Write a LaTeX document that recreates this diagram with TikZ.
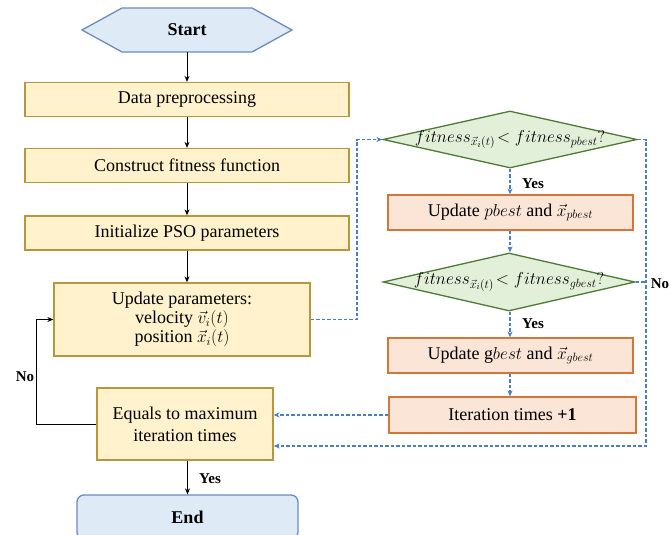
\documentclass[tikz,border=0pt]{standalone}
\usepackage{fontspec}
\setmainfont{Liberation Serif}
\usetikzlibrary{arrows.meta,shapes.geometric,calc}
\definecolor{yfill}{HTML}{FFF2CC}
\definecolor{ydraw}{HTML}{B8963E}
\definecolor{ofill}{HTML}{FBE5D6}
\definecolor{odraw}{HTML}{D4763A}
\definecolor{gfill}{HTML}{E2F0D9}
\definecolor{gdraw}{HTML}{4E7A35}
\definecolor{bfill}{HTML}{DEEBF7}
\definecolor{bdraw}{HTML}{6A8CBE}
\definecolor{dashblue}{HTML}{4A7CC8}
\begin{document}
\begin{tikzpicture}[x=1pt,y=-1pt,
  every node/.style={font=\fontsize{18}{20}\selectfont},
  ybox/.style={draw=ydraw,fill=yfill,line width=1.3pt,inner sep=0pt,align=center},
  obox/.style={draw=odraw,fill=ofill,line width=1.3pt,inner sep=0pt,align=center},
  gdia/.style={diamond,draw=gdraw,fill=gfill,line width=1.3pt,inner sep=0pt},
  sarrow/.style={-{Stealth[length=6pt,width=5pt]},line width=1pt,black},
  darrow/.style={-{Stealth[length=6pt,width=5pt,sep=0pt]},line width=1.2pt,dashblue,dash pattern=on 3.5pt off 2pt},
  dashline/.style={line width=1.2pt,dashblue,dash pattern=on 3.5pt off 2pt},
  lbl/.style={font=\fontsize{15}{17}\selectfont\bfseries}]
\useasboundingbox (0,0) rectangle (670,535);
% Start hexagon
\node[minimum width=210pt,minimum height=44pt,inner sep=0pt] (start) at (187,30) {};
\draw[draw=bdraw,fill=bfill,line width=1.3pt] (82,30) -- (122,8) -- (252,8) -- (292,30) -- (252,52) -- (122,52) -- cycle;
\node[font=\fontsize{18}{20}\selectfont\bfseries] at (start) {Start};
% left column
\node[ybox,minimum width=324pt,minimum height=34pt] (data) at (187,99.5) {Data preprocessing};
\node[ybox,minimum width=324pt,minimum height=34pt] (fit) at (187,165.5) {Construct fitness function};
\node[ybox,minimum width=324pt,minimum height=34pt] (init) at (187,233) {Initialize PSO parameters};
\node[ybox,minimum width=256pt,minimum height=73pt] (upd) at (182,319.5) {Update parameters:\\[-1pt] velocity $\vec{v}_i(t)$\\[-1pt] position $\vec{x}_i(t)$};
\node[ybox,minimum width=176pt,minimum height=72pt] (eq) at (185,424) {Equals to maximum\\[2pt] iteration times};
\node[draw=bdraw,fill=bfill,line width=1.3pt,rounded corners=7pt,minimum width=221pt,minimum height=44pt,inner sep=0pt] (end) at (187.5,517) {};
\node[font=\fontsize{18}{20}\selectfont\bfseries] at (187.5,517) {End};
% right column
\node[gdia,minimum width=254pt,minimum height=57pt] (d1) at (510,139.5) {};
\node at (d1) {$fitness_{\vec{x}_i(t)}\!< fitness_{pbest}?$};
\node[obox,minimum width=245pt,minimum height=35pt] (pb) at (510.5,212.5) {Update $pbest$ and $\vec{x}_{pbest}$};
\node[gdia,minimum width=252pt,minimum height=58pt] (d2) at (509,282) {};
\node at (d2) {$fitness_{\vec{x}_i(t)}\!< fitness_{gbest}?$};
\node[obox,minimum width=245pt,minimum height=35pt] (gb) at (510.5,355.5) {Update g$best$ and $\vec{x}_{gbest}$};
\node[obox,minimum width=247pt,minimum height=36pt] (it) at (512.5,415) {Iteration times \textbf{+1}};
% solid arrows
\draw[sarrow] (start.south) -- (data.north);
\draw[sarrow] (data.south) -- (fit.north);
\draw[sarrow] (fit.south) -- (init.north);
\draw[sarrow] (init.south) -- (init.south |- upd.north);
\draw[sarrow] (eq.south -| end.north) -- (end.north);
\coordinate (loop) at (36,424);
\draw[sarrow] (eq.west) -- (loop) |- (upd.west);
\node[lbl] at (25,377) {No};
\node[lbl] at (210,479) {Yes};
% dashed connectors
\coordinate (j1) at (357,319.5);
\draw[darrow] (upd.east) -- (j1) |- (d1.west);
\draw[darrow] (d1.south) -- (pb.north -| d1.south);
\draw[darrow] (pb.south -| d1.south) -- (d2.north -| d1.south);
\draw[darrow] (d2.south -| d1.south) -- (gb.north -| d1.south);
\draw[darrow] (gb.south -| d1.south) -- (it.north -| d1.south);
\draw[darrow] (it.west) -- (it.west -| eq.east);
\coordinate (r1) at (646,139.5);
\coordinate (r2) at (646,446);
\draw[darrow] (d1.east) -- (r1) -- (r2) -- (r2 -| eq.east);
\draw[dashline] (d2.east) -- (d2.east -| r1);
\node[lbl] at (533,184) {Yes};
\node[lbl] at (533,324) {Yes};
\node[lbl] at (660,284) {No};
\end{tikzpicture}
\end{document}
